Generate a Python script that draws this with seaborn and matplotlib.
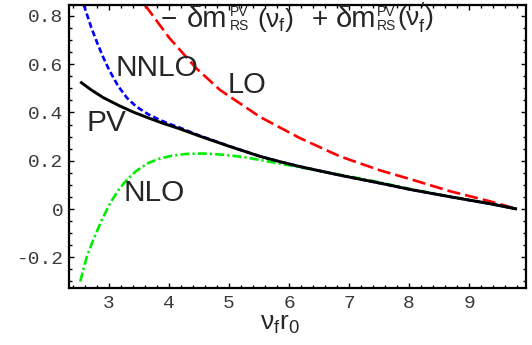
import matplotlib
matplotlib.use("Agg")
import matplotlib.pyplot as plt
import pandas as pd
import seaborn as sns

# Curves: PV-scheme mass shift vs. nu_f r0 at successive orders
pv_x = [2.52, 2.7, 2.9, 3.17, 3.4, 3.67, 3.9, 4.17, 4.5, 5.0, 5.52, 5.85, 6.18, 6.85, 7.52, 8.02,
        8.68, 9.35, 9.8]
pv_y = [0.527, 0.494, 0.462, 0.428, 0.402, 0.376, 0.355, 0.333, 0.303, 0.26, 0.218, 0.196, 0.176,
        0.140, 0.107, 0.081, 0.051, 0.022, 0.0]

nnlo_x = [2.58, 2.7, 2.8, 2.9, 3.0, 3.15, 3.3, 3.45, 3.65, 3.83, 4.0, 4.17, 4.5, 5.0,
          5.52, 5.85, 6.18, 6.85, 7.52, 8.02, 8.68, 9.35, 9.8]
nnlo_y = [0.845, 0.755, 0.69, 0.63, 0.577, 0.51, 0.46, 0.425, 0.393, 0.371, 0.353, 0.338, 0.305, 0.261,
          0.218, 0.196, 0.176, 0.140, 0.107, 0.081, 0.051, 0.022, 0.0]

lo_x = [3.6, 4.0, 4.45, 4.85, 5.52, 6.18, 6.85, 7.52, 8.02, 8.68, 9.35, 9.8]
lo_y = [0.845, 0.71, 0.584, 0.493, 0.381, 0.294, 0.218, 0.160, 0.124, 0.074, 0.032, 0.0]

nlo_x = [2.52, 2.63, 2.75, 2.89, 3.02, 3.17, 3.3, 3.45, 3.65, 3.83, 4.05, 4.28, 4.5, 4.67,
         4.95, 5.25, 5.52, 5.85, 6.18, 6.5, 6.85, 7.2, 7.52, 8.02, 8.68, 9.35, 9.8]
nlo_y = [-0.30, -0.197, -0.12, -0.04, 0.025, 0.083, 0.122, 0.157, 0.19, 0.208, 0.221, 0.228, 0.23, 0.229,
         0.224, 0.215, 0.203, 0.188, 0.173, 0.158, 0.142, 0.126, 0.110, 0.083, 0.052, 0.022, 0.0]

x_ticks = [3, 4, 5, 6, 7, 8, 9]
y_ticks = [-0.2, 0, 0.2, 0.4, 0.6, 0.8]
y_tick_labels = ["-0.2", "0", "0.2", "0.4", "0.6", "0.8"]

sns.set_theme(style="ticks")
plt.rcParams["font.family"] = ["Liberation Sans", "DejaVu Sans"]
plt.rcParams["mathtext.fontset"] = "custom"
plt.rcParams["mathtext.rm"] = "Liberation Sans"
plt.rcParams["mathtext.it"] = "Liberation Sans"
plt.rcParams["mathtext.bf"] = "Liberation Sans:bold"
plt.rcParams["lines.scale_dashes"] = False

fig = plt.figure(figsize=(5.32, 3.45), dpi=100)
ax = fig.add_axes([69 / 532, 1 - 288 / 345, (526 - 69) / 532, (288 - 5) / 345])


def draw(xs, ys, color, ls, lw):
    df = pd.DataFrame({"x": xs, "y": ys})
    sns.lineplot(data=df, x="x", y="y", ax=ax, color=color, linestyle=ls,
                 linewidth=lw, estimator=None, sort=True, solid_capstyle="butt",
                 dash_capstyle="butt")


draw(lo_x, lo_y, "#ff0000", (0, (9.5, 3.6)), 1.9)
draw(nlo_x, nlo_y, "#00ee00", (0, (6.5, 2.2, 1.6, 2.2)), 1.9)
draw(nnlo_x, nnlo_y, "#0000ff", (0, (4.3, 2.2)), 1.9)
draw(pv_x, pv_y, "#000000", "-", 2.1)

ax.set_xlim(2.333, 9.95)
ax.set_ylim(-0.327, 0.845)

ax.set_xticks(x_ticks)
ax.set_xticklabels([str(v) for v in x_ticks])
ax.set_yticks(y_ticks)
ax.set_yticklabels(y_tick_labels)
ax.set_xticks([v / 5 for v in range(12, 50)], minor=True)
ax.set_yticks([v / 20 for v in range(-6, 17)], minor=True)

ax.tick_params(which="both", direction="in", top=True, right=True, colors="black",
               width=1.0, labelcolor="#3a3a3a")
ax.tick_params(axis="y", pad=4)
ax.tick_params(axis="x", pad=5)
ax.tick_params(which="major", length=3.5)
ax.tick_params(which="minor", length=2.2)
for lab in ax.get_xticklabels() + ax.get_yticklabels():
    lab.set_family(["Liberation Mono", "DejaVu Sans Mono"])
    lab.set_fontsize(14)

for side in ["left", "bottom", "top", "right"]:
    ax.spines[side].set_linewidth(1.6)
    ax.spines[side].set_color("black")

ax.set_xlabel(r"$\nu_{\mathrm{f}}\mathrm{r}_{0}$", fontsize=19, labelpad=2)
ax.xaxis.set_label_coords((280 - 69) / 457, -0.085)
ax.set_ylabel("")

ax.text(3.1, 0.55, "NNLO", fontsize=21.5, va="baseline")
ax.text(4.97, 0.48, "LO", fontsize=21, va="baseline")
ax.text(2.63, 0.323, "PV", fontsize=21.5, va="baseline")
ax.text(3.24, 0.034, "NLO", fontsize=21.5, va="baseline")

# Formula label, assembled piece by piece; offsets are in pixels from its left baseline point
anchor = (3.9, 0.755)
pieces = [
    ("\u2212", -2, 0, 20, {}),
    ("\u03b4m", 24, 0, 21, {}),
    ("PV\nRS", 67, 3, 10, {"linespacing": 0.95}),
    (r"$(\nu_{\mathrm{f}})$", 94, 0, 19, {}),
    ("+", 149, 0, 20, {}),
    ("\u03b4m", 173, 0, 21, {}),
    ("PV\nRS", 214, 3, 10, {"linespacing": 0.95}),
    (r"$(\nu^{\prime}_{\mathrm{f}})$", 234, 0, 19, {}),
]
for s, dx, dy, size, extra in pieces:
    ax.annotate(s, xy=anchor, xycoords="data", xytext=(dx * 0.72, -dy * 0.72),
                textcoords="offset points", fontsize=size, va="baseline", ha="left",
                annotation_clip=False, **extra)

fig.savefig("out.png", dpi=100, facecolor="white")
